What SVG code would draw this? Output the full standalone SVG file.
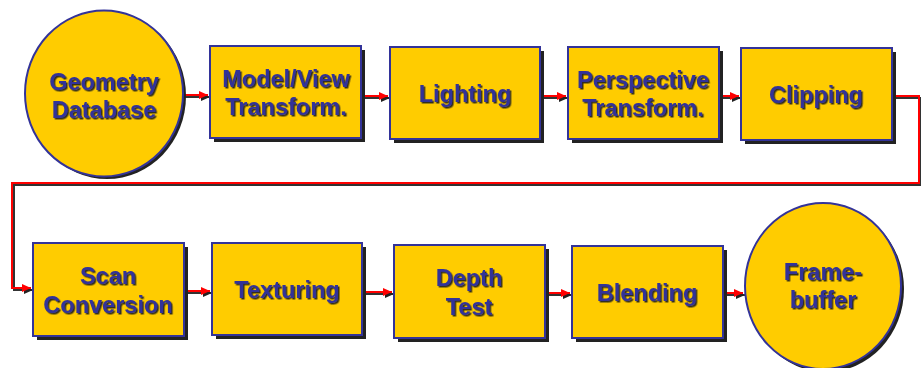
<svg xmlns="http://www.w3.org/2000/svg" width="921" height="368" viewBox="0 0 921 368">
<style>
.box{fill:#FFCC00;stroke:#333399;stroke-width:2}
.shd{fill:#222222}
.lbl{font-family:"Liberation Sans",Arial,sans-serif;font-weight:bold;font-size:23.5px;fill:#333399;text-anchor:middle;filter:url(#ts)}
.ln{fill:none;stroke:#FF0000;stroke-width:2}
.lns{fill:none;stroke:#333333;stroke-width:2}
</style>
<defs>
<filter id="ts" x="-10%" y="-20%" width="130%" height="150%">
<feDropShadow dx="1.5" dy="1.5" stdDeviation="0.4" flood-color="#1a1a1a" flood-opacity="0.9"/>
</filter>
<marker id="ah" markerWidth="10" markerHeight="10" refX="9" refY="5" orient="auto" markerUnits="userSpaceOnUse">
<path d="M0,1 L9,5 L0,9 Z" fill="#FF0000"/>
</marker>
<marker id="ahs" markerWidth="10" markerHeight="10" refX="9" refY="5" orient="auto" markerUnits="userSpaceOnUse">
<path d="M0,1 L9,5 L0,9 Z" fill="#222222"/>
</marker>
</defs>

<g id="connectors">
<g transform="translate(2,2)">
<path class="lns" marker-end="url(#ahs)" d="M183,95 H208"/>
<path class="lns" marker-end="url(#ahs)" d="M361,96 H388"/>
<path class="lns" marker-end="url(#ahs)" d="M540,96 H566"/>
<path class="lns" marker-end="url(#ahs)" d="M719,96 H739"/>
<path class="lns" marker-end="url(#ahs)" d="M892,96 H919 V183 H12 V288 H31"/>
<path class="lns" marker-end="url(#ahs)" d="M184,291 H210"/>
<path class="lns" marker-end="url(#ahs)" d="M362,292 H392"/>
<path class="lns" marker-end="url(#ahs)" d="M545,293 H570"/>
<path class="lns" marker-end="url(#ahs)" d="M723,293 H743"/>
</g>
<path class="ln" marker-end="url(#ah)" d="M183,95 H208"/>
<path class="ln" marker-end="url(#ah)" d="M361,96 H388"/>
<path class="ln" marker-end="url(#ah)" d="M540,96 H566"/>
<path class="ln" marker-end="url(#ah)" d="M719,96 H739"/>
<path class="ln" marker-end="url(#ah)" d="M892,96 H919 V183 H12 V288 H31"/>
<path class="ln" marker-end="url(#ah)" d="M184,291 H210"/>
<path class="ln" marker-end="url(#ah)" d="M362,292 H392"/>
<path class="ln" marker-end="url(#ah)" d="M545,293 H570"/>
<path class="ln" marker-end="url(#ah)" d="M723,293 H743"/>
</g>

<g id="geometry-database">
<ellipse class="shd" cx="107" cy="96" rx="79" ry="83"/>
<ellipse class="box" cx="104" cy="93.5" rx="79" ry="83"/>
<text class="lbl" x="104" y="90">Geometry</text>
<text class="lbl" x="104" y="118">Database</text>
</g>

<g id="model-view">
<rect class="shd" x="214" y="50" width="151" height="92"/>
<rect class="box" x="210" y="46" width="151" height="92"/>
<text class="lbl" x="286" y="87">Model/View</text>
<text class="lbl" x="286" y="115">Transform.</text>
</g>

<g id="lighting">
<rect class="shd" x="394" y="51" width="150" height="92"/>
<rect class="box" x="390" y="47" width="150" height="92"/>
<text class="lbl" x="465" y="102">Lighting</text>
</g>

<g id="perspective">
<rect class="shd" x="572" y="51" width="151" height="92"/>
<rect class="box" x="568" y="47" width="151" height="92"/>
<text class="lbl" x="643" y="88">Perspective</text>
<text class="lbl" x="643" y="116">Transform.</text>
</g>

<g id="clipping">
<rect class="shd" x="745" y="52" width="151" height="92"/>
<rect class="box" x="741" y="48" width="151" height="92"/>
<text class="lbl" x="816" y="103">Clipping</text>
</g>

<g id="scan-conversion">
<rect class="shd" x="37" y="247" width="151" height="93"/>
<rect class="box" x="33" y="243" width="151" height="93"/>
<text class="lbl" x="108" y="284">Scan</text>
<text class="lbl" x="108" y="313">Conversion</text>
</g>

<g id="texturing">
<rect class="shd" x="216" y="247" width="150" height="92"/>
<rect class="box" x="212" y="243" width="150" height="92"/>
<text class="lbl" x="287" y="298">Texturing</text>
</g>

<g id="depth-test">
<rect class="shd" x="398" y="249" width="151" height="93"/>
<rect class="box" x="394" y="245" width="151" height="93"/>
<text class="lbl" x="469" y="286">Depth</text>
<text class="lbl" x="469" y="315">Test</text>
</g>

<g id="blending">
<rect class="shd" x="576" y="250" width="151" height="92"/>
<rect class="box" x="572" y="246" width="151" height="92"/>
<text class="lbl" x="647" y="301">Blending</text>
</g>

<g id="framebuffer">
<ellipse class="shd" cx="826" cy="289" rx="78" ry="83"/>
<ellipse class="box" cx="823" cy="286" rx="78" ry="83"/>
<text class="lbl" x="823" y="280">Frame-</text>
<text class="lbl" x="823" y="308">buffer</text>
</g>
</svg>
